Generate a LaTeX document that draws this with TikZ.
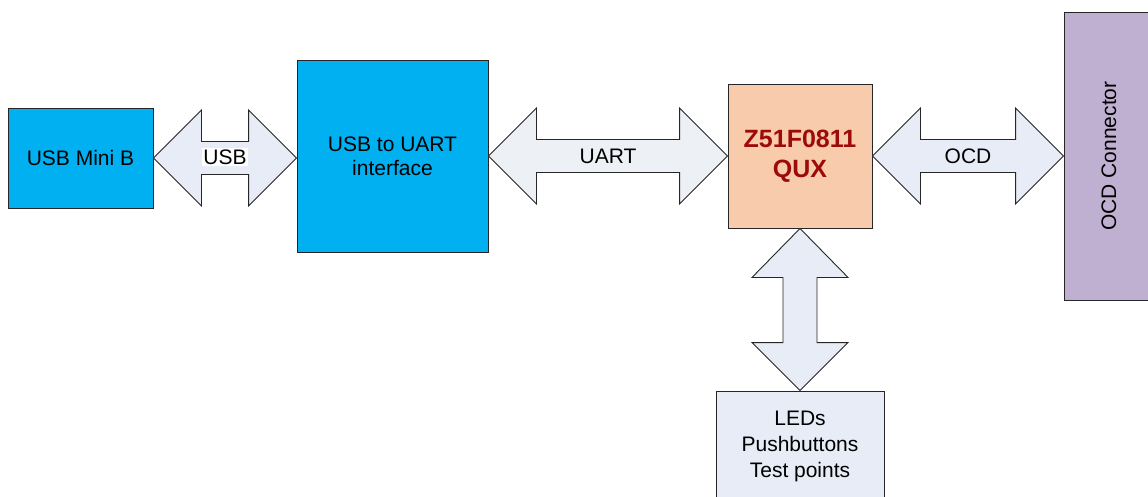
\documentclass[tikz,border=0pt]{standalone}
\usepackage{fontspec}
\setmainfont{Liberation Sans}
\usepackage{xcolor}
\usepackage{tikz}
\usetikzlibrary{calc}
\definecolor{edge}{HTML}{262626}
\definecolor{usbblue}{HTML}{00B0F0}
\definecolor{peach}{HTML}{F8CBAD}
\definecolor{lilac}{HTML}{BFB0D2}
\definecolor{pale}{HTML}{E7ECF6}
\definecolor{paleb}{HTML}{EDF0F5}
\definecolor{mcured}{HTML}{9C0A0A}
\tikzset{
  box/.style={draw=edge, line width=0.9pt, inner sep=0pt, align=center,
    font=\fontsize{21}{24}\selectfont},
  bluebox/.style={box, fill=usbblue},
  bigarrow/.style={draw=edge, line width=0.9pt, fill=pale, line join=miter},
  lbl/.style={inner sep=1.5pt, font=\fontsize{21}{24}\selectfont}
}
% horizontal and vertical double arrows between two anchors
\newcommand{\hdarrow}[3][pale]{%
  \draw[bigarrow, fill=#1] let \p1=(#2), \p2=(#3) in
    (\x1,\y1) -- (\x1+48pt,\y1+48pt) -- (\x1+48pt,\y1+16.5pt)
    -- (\x2-48pt,\y1+16.5pt) -- (\x2-48pt,\y1+48pt) -- (\x2,\y1)
    -- (\x2-48pt,\y1-48pt) -- (\x2-48pt,\y1-16.5pt)
    -- (\x1+48pt,\y1-16.5pt) -- (\x1+48pt,\y1-48pt) -- cycle;}
\newcommand{\vdarrow}[2]{%
  \draw[bigarrow] let \p1=(#1), \p2=(#2) in
    (\x1,\y1) -- (\x1+48pt,\y1-49pt) -- (\x1+17pt,\y1-49pt)
    -- (\x1+17pt,\y2+48pt) -- (\x1+48pt,\y2+48pt) -- (\x1,\y2)
    -- (\x1-48pt,\y2+48pt) -- (\x1-17pt,\y2+48pt)
    -- (\x1-17pt,\y1-49pt) -- (\x1-48pt,\y1-49pt) -- cycle;}

\begin{document}
\begin{tikzpicture}[x=1pt, y=-1pt]
  \useasboundingbox (0,0) rectangle (1148,496);
  \clip (0,0) rectangle (1148,496);

  % blocks
  \node[bluebox, minimum width=145, minimum height=100] (usbmini) at (80.5,158) {USB Mini B};
  \node[bluebox, minimum width=191, minimum height=192] (uartif) at (392.5,156) {USB to UART\\interface};
  \node[box, fill=peach, minimum width=144, minimum height=144,
    font=\fontsize{25}{30}\selectfont\bfseries, text=mcured] (mcu) at (800,156) {Z51F0811\\QUX};
  \node[box, fill=lilac, minimum width=88, minimum height=288] (ocdconn) at (1108,156) {};
  \node[rotate=90, font=\fontsize{21}{24}\selectfont] (ocdtext) at (1109,156) {OCD Connector};
  \node[box, fill=pale, minimum width=168, minimum height=111,
    font=\fontsize{21}{26}\selectfont] (leds) at (800,446.5) {LEDs\\Pushbuttons\\Test points};

  % links
  \hdarrow{usbmini.east}{uartif.west}
  \hdarrow[paleb]{uartif.east}{mcu.west}
  \hdarrow{mcu.east}{ocdconn.west}
  \vdarrow{mcu.south}{leds.north}

  \node[lbl, fill=white] (usblbl) at (225,157) {USB};
  \node[lbl] (uartlbl) at (608,156) {UART};
  \node[lbl] (ocdlbl) at (968,156) {OCD};
\end{tikzpicture}
\end{document}
